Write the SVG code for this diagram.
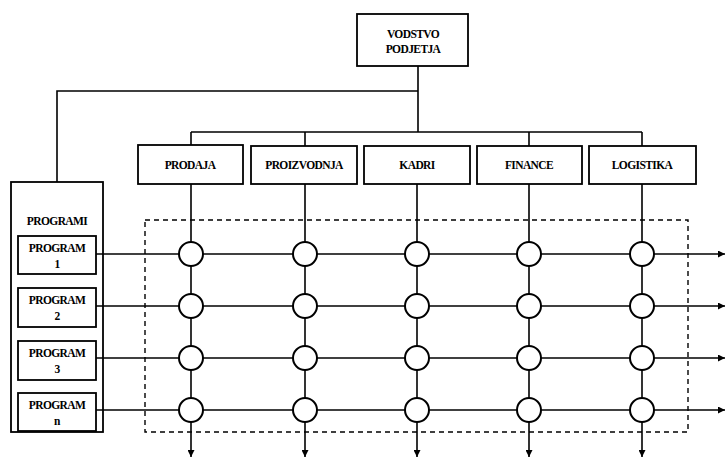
<svg xmlns="http://www.w3.org/2000/svg" width="727" height="459" viewBox="0 0 727 459">
<style>
.box{fill:#fff;stroke:#000;stroke-width:1.8}
.outer{fill:none;stroke:#000;stroke-width:1.8}
.ln{fill:none;stroke:#000;stroke-width:1.6}
.dash{fill:none;stroke:#000;stroke-width:1.4;stroke-dasharray:5,4}
.node{fill:#fff;stroke:#000;stroke-width:2}
.t{font-family:"Liberation Serif",serif;font-weight:bold;font-size:11.5px;letter-spacing:-0.6px;text-anchor:middle;fill:#000}
</style>
<defs>
<marker id="ah" viewBox="0 0 10 10" refX="10" refY="5" markerWidth="7" markerHeight="7" markerUnits="userSpaceOnUse" orient="auto">
<path d="M0,0 L10,5 L0,10 z" fill="#000"/>
</marker>
</defs>
<g id="connectors">
<path class="ln" d="M418,66 V132 M191,132 H642 M191,132 V145 M305,132 V146 M529,132 V146 M642,132 V146"/>
<path class="ln" d="M418,91 H57 V182"/>
<path class="ln" d="M191,184 V252 M305,184 V252 M417,184 V252 M529,184 V252 M642,184 V252"/>
<rect class="dash" x="145" y="220" width="543" height="212"/>
<g class="ln">
<line x1="96" y1="254" x2="725" y2="254" marker-end="url(#ah)"/>
<line x1="96" y1="306" x2="725" y2="306" marker-end="url(#ah)"/>
<line x1="96" y1="358" x2="725" y2="358" marker-end="url(#ah)"/>
<line x1="96" y1="410" x2="725" y2="410" marker-end="url(#ah)"/>
<line x1="191" y1="252" x2="191" y2="457" marker-end="url(#ah)"/>
<line x1="305" y1="252" x2="305" y2="457" marker-end="url(#ah)"/>
<line x1="417" y1="252" x2="417" y2="457" marker-end="url(#ah)"/>
<line x1="529" y1="252" x2="529" y2="457" marker-end="url(#ah)"/>
<line x1="642" y1="252" x2="642" y2="457" marker-end="url(#ah)"/>
</g>
</g>
<g id="nodes-grid">
<g class="node">
<circle cx="191" cy="254" r="12"/><circle cx="305" cy="254" r="12"/><circle cx="417" cy="254" r="12"/><circle cx="529" cy="254" r="12"/><circle cx="642" cy="254" r="12"/>
<circle cx="191" cy="306" r="12"/><circle cx="305" cy="306" r="12"/><circle cx="417" cy="306" r="12"/><circle cx="529" cy="306" r="12"/><circle cx="642" cy="306" r="12"/>
<circle cx="191" cy="358" r="12"/><circle cx="305" cy="358" r="12"/><circle cx="417" cy="358" r="12"/><circle cx="529" cy="358" r="12"/><circle cx="642" cy="358" r="12"/>
<circle cx="191" cy="410" r="12"/><circle cx="305" cy="410" r="12"/><circle cx="417" cy="410" r="12"/><circle cx="529" cy="410" r="12"/><circle cx="642" cy="410" r="12"/>
</g>
</g>
<g id="vodstvo">
<rect class="box" x="357" y="14" width="111" height="52"/>
<text class="t" x="413" y="38">VODSTVO</text>
<text class="t" x="413" y="53">PODJETJA</text>
</g>
<g id="prodaja"><rect class="box" x="138" y="145" width="105" height="39"/><text class="t" x="190" y="169">PRODAJA</text></g>
<g id="proizvodnja"><rect class="box" x="251" y="146" width="106" height="38"/><text class="t" x="304" y="169">PROIZVODNJA</text></g>
<g id="kadri"><rect class="box" x="364" y="146" width="106" height="38"/><text class="t" x="417" y="169">KADRI</text></g>
<g id="finance"><rect class="box" x="477" y="146" width="105" height="38"/><text class="t" x="529" y="169">FINANCE</text></g>
<g id="logistika"><rect class="box" x="589" y="146" width="107" height="38"/><text class="t" x="642" y="169">LOGISTIKA</text></g>
<g id="programi">
<rect class="outer" x="11" y="182" width="92" height="250"/>
<text class="t" x="57" y="225">PROGRAMI</text>
</g>
<g id="program1"><rect class="box" x="18" y="236" width="78" height="38"/><text class="t" x="57" y="252">PROGRAM</text><text class="t" x="57" y="268">1</text></g>
<g id="program2"><rect class="box" x="18" y="288" width="78" height="39"/><text class="t" x="57" y="304">PROGRAM</text><text class="t" x="57" y="320">2</text></g>
<g id="program3"><rect class="box" x="18" y="341" width="78" height="39"/><text class="t" x="57" y="357">PROGRAM</text><text class="t" x="57" y="373">3</text></g>
<g id="programn"><rect class="box" x="18" y="393" width="78" height="38"/><text class="t" x="57" y="409">PROGRAM</text><text class="t" x="57" y="425">n</text></g>
</svg>
